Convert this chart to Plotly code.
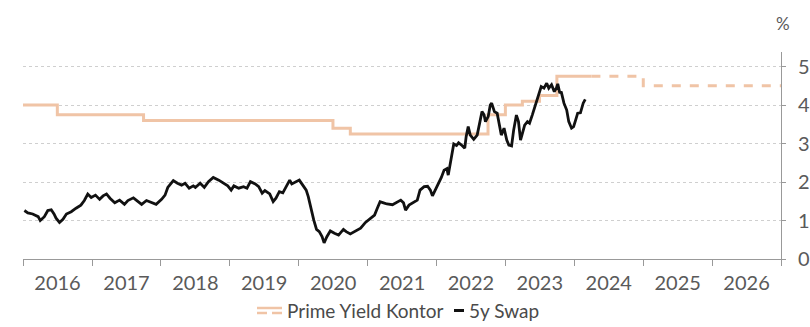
import datetime as dt
import plotly.graph_objects as go

# ---- Prime yield (office), step series ----
prime_dates = ["2016-01-01", "2016-07-01", "2017-10-01", "2020-07-01", "2020-10-01",
               "2022-10-01", "2023-01-01", "2023-04-01", "2023-07-01", "2023-10-01",
               "2024-04-01"]
prime_values = [4.0, 3.75, 3.6, 3.4, 3.25, 3.75, 4.0, 4.1, 4.25, 4.75, 4.75]

# forecast part of the prime yield
prime_fc_dates = ["2024-04-01", "2025-01-01", "2027-01-01"]
prime_fc_values = [4.75, 4.5, 4.5]

# ---- 5y swap rate (decimal year, %) ----
swap_years = [
    2016.02, 2016.07, 2016.14, 2016.22, 2016.25, 2016.31, 2016.36, 2016.41, 2016.45, 2016.48,
    2016.53, 2016.58, 2016.63, 2016.70, 2016.77, 2016.84, 2016.89, 2016.94, 2016.99, 2017.05,
    2017.11, 2017.16, 2017.21, 2017.26, 2017.33, 2017.40, 2017.47, 2017.52, 2017.60, 2017.67,
    2017.72, 2017.79, 2017.86, 2017.93, 2018.01, 2018.06, 2018.10, 2018.18, 2018.24, 2018.30,
    2018.35, 2018.41, 2018.47, 2018.50, 2018.57, 2018.63, 2018.69, 2018.76, 2018.84, 2018.91,
    2018.97, 2019.02, 2019.06, 2019.13, 2019.20, 2019.25, 2019.30, 2019.37, 2019.42, 2019.47,
    2019.51, 2019.58, 2019.63, 2019.67, 2019.72, 2019.77, 2019.83, 2019.87, 2019.90, 2019.96,
    2020.01, 2020.06, 2020.11, 2020.14, 2020.18, 2020.22, 2020.26, 2020.30, 2020.34, 2020.37,
    2020.41, 2020.46, 2020.52, 2020.58, 2020.65, 2020.69, 2020.75, 2020.82, 2020.90, 2020.97,
    2021.04, 2021.10, 2021.14, 2021.18, 2021.23, 2021.28, 2021.36, 2021.42, 2021.48, 2021.52,
    2021.55, 2021.60, 2021.66, 2021.72, 2021.76, 2021.82, 2021.87, 2021.91, 2021.94, 2021.99,
    2022.03, 2022.07, 2022.11, 2022.15, 2022.17, 2022.20, 2022.23, 2022.25, 2022.29, 2022.32,
    2022.37, 2022.41, 2022.43, 2022.46, 2022.49, 2022.54, 2022.59, 2022.63, 2022.66, 2022.69,
    2022.71, 2022.75, 2022.78, 2022.80, 2022.84, 2022.88, 2022.91, 2022.94, 2022.98, 2023.02,
    2023.05, 2023.09, 2023.12, 2023.16, 2023.19, 2023.22, 2023.24, 2023.28, 2023.32, 2023.35,
    2023.39, 2023.43, 2023.46, 2023.50, 2023.52, 2023.56, 2023.60, 2023.63, 2023.67, 2023.71,
    2023.74, 2023.76, 2023.79, 2023.81, 2023.85, 2023.89, 2023.92, 2023.96, 2023.99, 2024.02,
    2024.05, 2024.09, 2024.13, 2024.16,
]
swap_values = [
    1.26, 1.20, 1.17, 1.10, 1.00, 1.10, 1.26, 1.28, 1.17, 1.06,
    0.95, 1.03, 1.17, 1.23, 1.32, 1.40, 1.52, 1.69, 1.60, 1.66,
    1.55, 1.64, 1.69, 1.58, 1.46, 1.53, 1.42, 1.52, 1.59, 1.49,
    1.42, 1.52, 1.46, 1.42, 1.55, 1.66, 1.86, 2.04, 1.97, 1.92,
    1.97, 1.84, 1.90, 1.86, 1.97, 1.86, 2.01, 2.12, 2.05, 1.98,
    1.90, 1.79, 1.90, 1.84, 1.88, 1.84, 2.01, 1.95, 1.88, 1.71,
    1.78, 1.69, 1.49, 1.58, 1.75, 1.72, 1.90, 2.05, 1.95, 2.01,
    2.05, 1.92, 1.79, 1.62, 1.27, 1.01, 0.77, 0.71, 0.58, 0.42,
    0.58, 0.73, 0.67, 0.62, 0.77, 0.71, 0.65, 0.71, 0.80, 0.95,
    1.06, 1.14, 1.32, 1.49, 1.46, 1.43, 1.41, 1.46, 1.53, 1.46,
    1.27, 1.40, 1.46, 1.53, 1.79, 1.88, 1.89, 1.79, 1.64, 1.81,
    1.97, 2.12, 2.31, 2.35, 2.18, 2.53, 2.79, 2.99, 2.95, 3.02,
    2.95, 2.88, 3.18, 3.44, 3.22, 3.11, 3.22, 3.61, 3.83, 3.75,
    3.57, 3.70, 4.00, 4.05, 3.83, 3.79, 3.48, 3.22, 3.40, 3.09,
    2.96, 2.94, 3.35, 3.74, 3.57, 3.09, 3.22, 3.48, 3.57, 3.53,
    3.74, 3.96, 4.13, 4.35, 4.48, 4.44, 4.57, 4.44, 4.53, 4.35,
    4.44, 4.55, 4.31, 4.35, 4.05, 3.87, 3.57, 3.40, 3.44, 3.61,
    3.79, 3.80, 4.05, 4.15,
]

y_ticks = [0, 1, 2, 3, 4, 5]

PEACH = "#F0C4A6"
BLACK = "#111111"
TEXT = "#5a5a5a"
FONT = "Lato, Open Sans, sans-serif"


def to_date(y):
    year = int(y)
    return dt.datetime(year, 1, 1) + dt.timedelta(days=(y - year) * 365.25)


swap_dates = [to_date(y) for y in swap_years]

# plot area geometry (pixels) used to place the hand-made legend
W, H = 810, 327
ML, MR, MT, MB = 23, 29, 52, 68
PW, PH = W - ML - MR, H - MT - MB


def px(x):
    return (x - ML) / PW


def py(y):
    return (H - MB - y) / PH


fig = go.Figure()

fig.add_trace(go.Scatter(
    x=prime_dates, y=prime_values, mode="lines", line_shape="hv",
    line=dict(color=PEACH, width=3), name="Prime Yield Kontor", showlegend=False,
))
fig.add_trace(go.Scatter(
    x=prime_fc_dates, y=prime_fc_values, mode="lines", line_shape="hv",
    line=dict(color=PEACH, width=3, dash="9px,9px"), showlegend=False,
))
fig.add_trace(go.Scatter(
    x=swap_dates, y=swap_values, mode="lines",
    line=dict(color=BLACK, width=2.8), name="5y Swap", showlegend=False,
))

fig.update_xaxes(
    type="date", range=["2016-01-01", "2027-01-01"],
    dtick="M12", tick0="2016-01-01", tickformat="%Y", ticklabelmode="period",
    ticks="outside", ticklen=6, tickcolor="#999999",
    showline=True, linecolor="#999999", linewidth=1,
    showgrid=False, zeroline=False, automargin=False,
    tickfont=dict(family=FONT, size=20, color=TEXT),
)
fig.update_yaxes(
    side="right", range=[0, 5.38], tickvals=y_ticks,
    ticks="outside", ticklen=4, tickcolor="#999999",
    showline=True, linecolor="#999999", linewidth=1,
    showgrid=True, gridcolor="#cfcfcf", griddash="dot", gridwidth=1,
    zeroline=False, ticklabelstandoff=8, automargin=False,
    tickfont=dict(family=FONT, size=20, color=TEXT),
)

annotations = [
    dict(text="%", x=px(783), y=py(23), xref="paper", yref="paper",
         xanchor="center", yanchor="middle", showarrow=False,
         font=dict(family=FONT, size=17, color=TEXT)),
    dict(text="Prime Yield Kontor", x=px(285), y=py(310), xref="paper", yref="paper",
         xanchor="left", yanchor="middle", showarrow=False,
         font=dict(family=FONT, size=19, color="#4a4a4a")),
    dict(text="5y Swap", x=px(467), y=py(310), xref="paper", yref="paper",
         xanchor="left", yanchor="middle", showarrow=False,
         font=dict(family=FONT, size=19, color="#4a4a4a")),
]

shapes = [
    # legend key: actual (solid) over forecast (dashed)
    dict(type="line", xref="paper", yref="paper", x0=px(257), x1=px(282),
         y0=py(308), y1=py(308), line=dict(color=PEACH, width=2.5)),
    dict(type="line", xref="paper", yref="paper", x0=px(257), x1=px(267),
         y0=py(313), y1=py(313), line=dict(color=PEACH, width=2.5)),
    dict(type="line", xref="paper", yref="paper", x0=px(272), x1=px(282),
         y0=py(313), y1=py(313), line=dict(color=PEACH, width=2.5)),
    dict(type="line", xref="paper", yref="paper", x0=px(454), x1=px(464),
         y0=py(310.5), y1=py(310.5), line=dict(color=BLACK, width=3)),
]

fig.update_layout(
    width=W, height=H,
    margin=dict(l=ML, r=MR, t=MT, b=MB),
    paper_bgcolor="white", plot_bgcolor="white",
    showlegend=False,
    annotations=annotations, shapes=shapes,
    font=dict(family=FONT, color=TEXT),
)

fig.write_html("out.html")
